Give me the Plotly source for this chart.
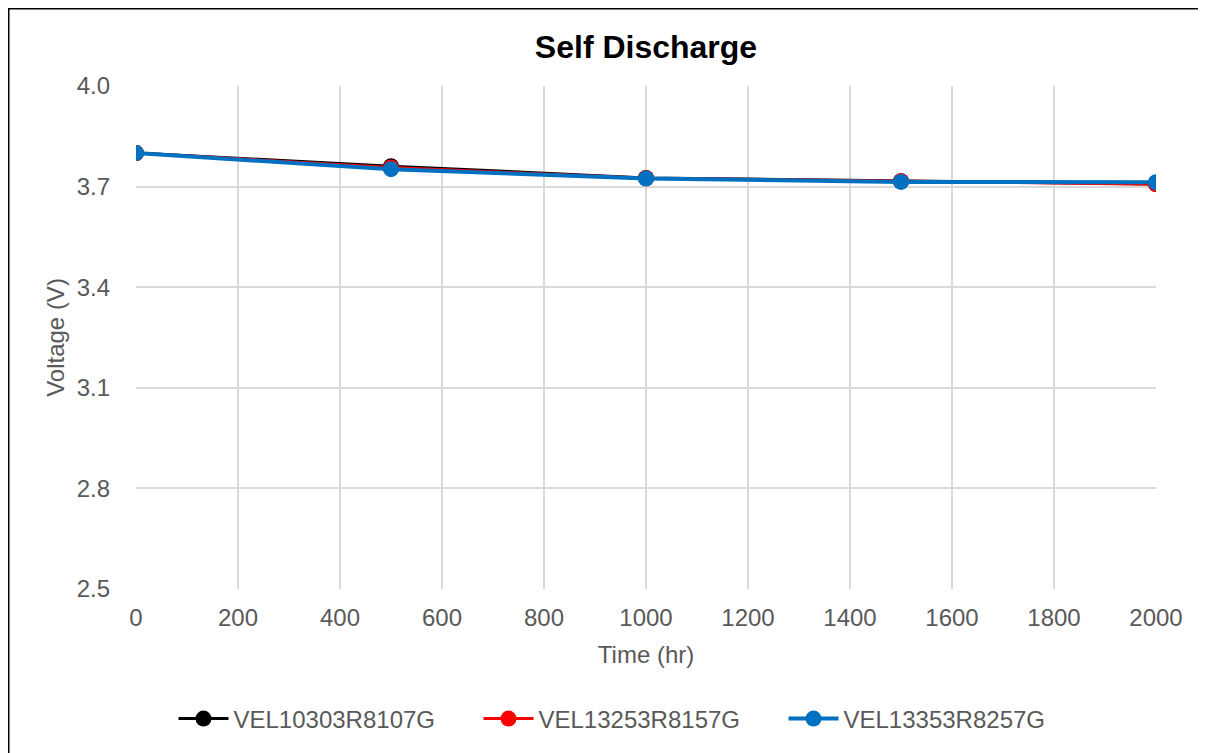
import plotly.graph_objects as go

time_hr = [0, 500, 1000, 1500, 2000]
s1_name = "VEL10303R8107G"
s1_values = [3.800, 3.761, 3.726, 3.716, 3.708]
s2_name = "VEL13253R8157G"
s2_values = [3.800, 3.757, 3.725, 3.716, 3.707]
s3_name = "VEL13353R8257G"
s3_values = [3.800, 3.752, 3.724, 3.714, 3.713]

x_ticks = list(range(0, 2001, 200))
y_ticks = [2.5, 2.8, 3.1, 3.4, 3.7, 4.0]

fig = go.Figure()
for name, vals, col, lw in [(s1_name, s1_values, "#000000", 3),
                            (s2_name, s2_values, "#ff0000", 3),
                            (s3_name, s3_values, "#0070c0", 4)]:
    fig.add_trace(go.Scatter(x=time_hr, y=vals, name=name, mode="lines+markers",
                             line=dict(color=col, width=lw),
                             marker=dict(color=col, size=16)))

W, H = 1206, 753
off = 8  # page body margin
ml, mr, mt, mb = 136 - off, 58, 86 - off, 172
pw, ph = W - ml - mr, H - mt - mb

fig.update_layout(
    width=W, height=H,
    margin=dict(l=ml, r=mr, t=mt, b=mb),
    paper_bgcolor="white", plot_bgcolor="white",
    font=dict(family="Liberation Sans, Arial", color="#595959", size=24),
    title=dict(text="<b>Self Discharge</b>", x=(646 - off) / W, xanchor="center",
               y=1 - (47 - off) / H, yanchor="middle",
               font=dict(size=32, color="#000000")),
    xaxis=dict(range=[0, 2000], tickvals=x_ticks, showgrid=True, gridcolor="#d9d9d9",
               gridwidth=1.5, zeroline=False, showline=False, ticks="",
               ticklabelstandoff=12,
               title=dict(text="Time (hr)", standoff=16, font=dict(size=24)),
               tickfont=dict(size=24)),
    yaxis=dict(range=[2.5, 4.0], tickvals=y_ticks, ticktext=["2.5", "2.8", "3.1", "3.4", "3.7", "4.0"],
               showgrid=True, gridcolor="#d9d9d9", gridwidth=1.5, zeroline=False,
               showline=False, ticks="", ticklabelstandoff=25,
               title=dict(text="Voltage (V)", standoff=5, font=dict(size=24)),
               tickfont=dict(size=24)),
    legend=dict(orientation="h", x=(631 - off) / W, xanchor="center", xref="container",
                y=1 - (719 - off) / H, yanchor="middle", yref="container",
                font=dict(size=24, color="#595959"), itemwidth=50,
                entrywidth=240),
    showlegend=True,
)

fig.add_shape(type="rect", xref="paper", yref="paper",
              x0=(0 - ml) / pw, x1=(1201 - off - ml + 4) / pw,
              y0=-0.5, y1=(mt + ph) / ph,
              line=dict(color="black", width=3), layer="below")

fig.write_html("out.html")
